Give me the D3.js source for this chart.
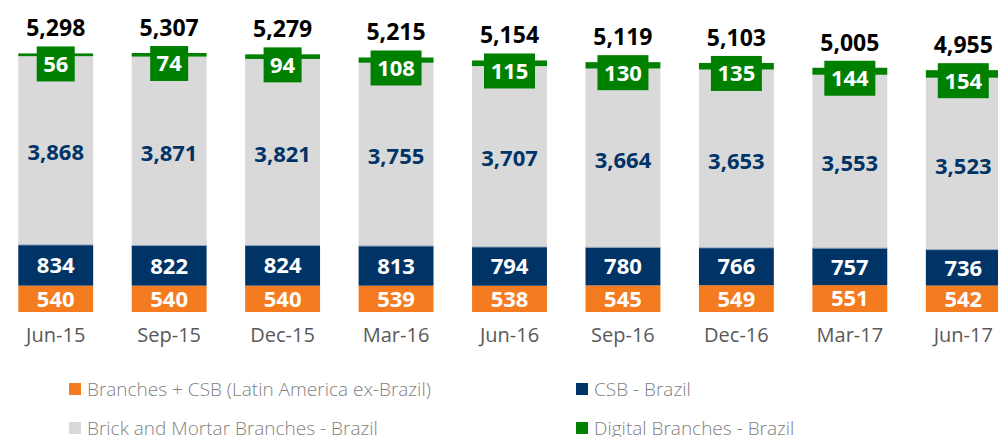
<html>
<meta charset="utf-8">
<head>
<script src="https://d3js.org/d3.v7.min.js"></script>
<style>
  body { margin: 0; background: #ffffff; }
  text { font-family: "Open Sans", "Noto Sans", sans-serif; }
</style>
</head>
<body>
<div id="chart"></div>
<script>
// data
var periods = ["Jun-15", "Sep-15", "Dec-15", "Mar-16", "Jun-16", "Sep-16", "Dec-16", "Mar-17", "Jun-17"];
var latam   = [540, 540, 540, 539, 538, 545, 549, 551, 542];
var csb     = [834, 822, 824, 813, 794, 780, 766, 757, 736];
var brick   = [3868, 3871, 3821, 3755, 3707, 3664, 3653, 3553, 3523];
var digital = [56, 74, 94, 108, 115, 130, 135, 144, 154];
var totals  = [5298, 5307, 5279, 5215, 5154, 5119, 5103, 5005, 4955];

var keys = ["latam", "csb", "brick", "digital"];
var names = ["Branches + CSB (Latin America ex-Brazil)", "CSB - Brazil",
             "Brick and Mortar Branches - Brazil", "Digital Branches - Brazil"];
var colors = { latam: "#f47b20", csb: "#003366", brick: "#d9d9d9", digital: "#008000" };

var data = periods.map(function (p, i) {
  return { period: p, latam: latam[i], csb: csb[i], brick: brick[i], digital: digital[i], total: totals[i] };
});

var W = 998, H = 437;
var svg = d3.select("#chart").append("svg").attr("width", W).attr("height", H);

var x = d3.scaleBand().domain(periods).range([-1, 1020]).paddingInner(0.34).paddingOuter(0.17);
var y = d3.scaleLinear().domain([0, 5307]).range([312, 53]);

var stacked = d3.stack().keys(keys)(data);

var g = svg.append("g");
g.selectAll("g.layer")
  .data(stacked)
  .enter().append("g")
    .attr("class", "layer")
    .attr("fill", function (d) { return colors[d.key]; })
  .selectAll("rect")
  .data(function (d) { return d; })
  .enter().append("rect")
    .attr("x", function (d) { return x(d.data.period); })
    .attr("y", function (d) { return y(d[1]); })
    .attr("width", x.bandwidth())
    .attr("height", function (d) { return y(d[0]) - y(d[1]); });

// thin separator between gray and navy
g.selectAll("line.sep")
  .data(stacked[1])
  .enter().append("line")
    .attr("x1", function (d) { return x(d.data.period); })
    .attr("x2", function (d) { return x(d.data.period) + x.bandwidth(); })
    .attr("y1", function (d) { return y(d[1]); })
    .attr("y2", function (d) { return y(d[1]); })
    .attr("stroke", "#8ea3bd").attr("stroke-width", 1);

var cx = function (d) { return x(d.data.period) + x.bandwidth() / 2; };

// labels inside orange / navy
[0, 1].forEach(function (k) {
  g.selectAll("text.l" + k)
    .data(stacked[k])
    .enter().append("text")
      .attr("x", cx)
      .attr("y", function (d) { return (y(d[0]) + y(d[1])) / 2; })
      .attr("dy", "0.36em")
      .attr("text-anchor", "middle")
      .attr("fill", "#ffffff")
      .style("font-size", "22px").style("font-weight", "bold")
      .text(function (d) { return d3.format(",")(d[1] - d[0]); });
});

// labels inside gray
g.selectAll("text.l2")
  .data(stacked[2])
  .enter().append("text")
    .attr("x", cx)
    .attr("y", function (d) { return (y(d[0]) + y(d[1])) / 2 + 2; })
    .attr("dy", "0.36em")
    .attr("text-anchor", "middle")
    .attr("fill", "#003366")
    .style("font-size", "22px").style("font-weight", "bold")
    .text(function (d) { return d3.format(",")(d[1] - d[0]); });

// green label boxes
var boxes = g.selectAll("g.box")
  .data(stacked[3])
  .enter().append("g")
    .attr("class", "box");
boxes.append("rect")
  .attr("x", function (d) { var w = (d[1] - d[0]) >= 100 ? 51 : 38; return cx(d) - w / 2; })
  .attr("y", function (d) { return y(d[1]) - 7; })
  .attr("width", function (d) { return (d[1] - d[0]) >= 100 ? 51 : 38; })
  .attr("height", 35)
  .attr("fill", "#008000");
boxes.append("text")
  .attr("x", cx)
  .attr("y", function (d) { return y(d[1]) - 7 + 17.5; })
  .attr("dy", "0.36em")
  .attr("text-anchor", "middle")
  .attr("fill", "#ffffff")
  .style("font-size", "22px").style("font-weight", "bold")
  .text(function (d) { return d3.format(",")(d[1] - d[0]); });

// totals
g.selectAll("text.total")
  .data(stacked[3])
  .enter().append("text")
    .attr("x", cx)
    .attr("y", function (d) { return y(d[1]) - 17; })
    .attr("text-anchor", "middle")
    .attr("fill", "#000000")
    .style("font-size", "23px").style("font-weight", "bold")
    .text(function (d) { return d3.format(",")(d.data.total); });

// x axis labels
var xAxis = svg.append("g")
  .attr("transform", "translate(0,328)")
  .call(d3.axisBottom(x).tickSize(0).tickPadding(0));
xAxis.select(".domain").remove();
xAxis.selectAll("text")
  .attr("dy", "0.71em")
  .attr("fill", "#595959")
  .style("font-size", "20px")
  .style("font-family", "'Open Sans', sans-serif");

// legend
var legPos = [[69, 389], [576, 389], [69, 428], [576, 428]];
var legOrder = [0, 1, 2, 3];
var leg = svg.selectAll("g.legend")
  .data(legOrder)
  .enter().append("g")
    .attr("class", "legend")
    .attr("transform", function (d, i) { return "translate(" + legPos[i][0] + "," + legPos[i][1] + ")"; });
leg.append("rect")
  .attr("x", 0).attr("y", -6)
  .attr("width", 12).attr("height", 12)
  .attr("fill", function (d) { return colors[keys[d]]; });
leg.append("text")
  .attr("x", 18).attr("y", 0)
  .attr("dy", "0.36em")
  .attr("fill", "#7f7f7f")
  .style("font-size", "19px")
  .style("font-weight", "300")
  .text(function (d) { return names[d]; });
</script>
</body>
</html>
